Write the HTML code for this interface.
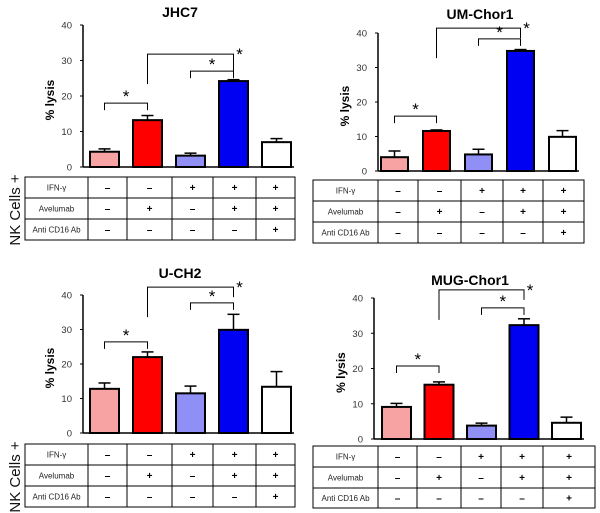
<!DOCTYPE html>
<html><head><meta charset="utf-8">
<style>
html,body{margin:0;padding:0;background:#fff;}
svg{display:block;font-family:"Liberation Sans",Arial,sans-serif;}
</style></head>
<body>
<svg id="fig" width="600" height="513" viewBox="0 0 600 513" xmlns="http://www.w3.org/2000/svg">
<text x="0" y="0" transform="translate(20,210) rotate(-90)" text-anchor="middle" font-size="15" fill="#111">NK Cells +</text>
<text x="0" y="0" transform="translate(20,477) rotate(-90)" text-anchor="middle" font-size="15" fill="#111">NK Cells +</text>
</svg>
<script>
// Shared categories and table rows
const categories = ["NK", "NK+Avelumab", "NK+IFN", "NK+IFN+Avelumab", "NK+IFN+Avelumab+antiCD16"];
const rowLabels = ["IFN-\u03b3", "Avelumab", "Anti CD16 Ab"];
const rowIfn = ["\u2013", "\u2013", "+", "+", "+"];
const rowAvelumab = ["\u2013", "+", "\u2013", "+", "+"];
const rowCd16 = ["\u2013", "\u2013", "\u2013", "\u2013", "+"];
const yTicks = [0, 10, 20, 30, 40];
const barColors = ["#f8a3a3", "#ff0000", "#8f8ff5", "#0000f2", "#ffffff"];

// Series data per panel
const jhc7Values = [4.3, 13.2, 3.2, 24.2, 7.0];
const jhc7Errors = [0.8, 1.3, 0.7, 0.4, 1.0];
const jhc7Brackets = [18, 27, 31.8];
const umValues = [4.0, 11.6, 4.8, 34.8, 9.9];
const umErrors = [1.8, 0.3, 1.5, 0.4, 1.8];
const umBrackets = [15.9, 38.3, 41.4];
const uch2Values = [12.8, 22.0, 11.5, 29.9, 13.4];
const uch2Errors = [1.7, 1.5, 2.1, 4.5, 4.4];
const uch2Brackets = [26.4, 37.7, 42.3];
const mugValues = [9.1, 15.4, 3.8, 32.3, 4.6];
const mugErrors = [1.0, 0.8, 0.7, 1.8, 1.6];
const mugBrackets = [20.7, 37.2, 42.3];

const NS = "http://www.w3.org/2000/svg";
const svg = document.getElementById("fig");
function mk(tag, attrs, parent, txt) {
  const e = document.createElementNS(NS, tag);
  for (const k in attrs) e.setAttribute(k, attrs[k]);
  if (txt !== undefined) e.textContent = txt;
  (parent || svg).appendChild(e);
  return e;
}

function panel(p, values, errors, brackets) {
  const g = mk("g", {});
  
  
  const y = v => p.y0 - (v / 40) * (p.y0 - p.y40);
  const bx = i => p.bx0 + i * p.step;
  const t = mk("text", {x: p.tx, y: p.ty, "text-anchor": "middle", "font-size": 14, "font-weight": "bold", fill: "#000"}, g, p.title);
  
  
  const ax = mk("line", {x1: p.ax, y1: y(40), x2: p.ax, y2: y(0), stroke: "#000", "stroke-width": 1.5}, g);
  
  
  const xax = mk("line", {x1: p.ax, y1: y(0), x2: bx(4) + p.bw + 3, y2: y(0), stroke: "#000", "stroke-width": 1.5}, g);
  
  
  yTicks.forEach(v => {
    mk("line", {x1: p.ax - 3, y1: y(v), x2: p.ax, y2: y(v), stroke: "#000", "stroke-width": 1}, g);
    const tl = mk("text", {x: p.ax - 11, y: y(v) + 3.5, "text-anchor": "end", "font-size": 9.5, fill: "#333"}, g, String(v));
    
    
  });
  const yt = mk("text", {transform: `translate(${p.ax - 29},${(y(0) + y(40)) / 2 + 4}) rotate(-90)`, "text-anchor": "middle", "font-size": 12, "font-weight": "bold", fill: "#000"}, g, "% lysis");
  
  
  values.forEach((v, i) => {
    const x = bx(i), top = y(v), cx = x + p.bw / 2;
    const eb = y(v + errors[i]);
    const el = mk("line", {x1: cx, y1: top, x2: cx, y2: eb, stroke: "#000", "stroke-width": 1.5}, g);
    
    
    mk("line", {x1: cx - 6, y1: eb, x2: cx + 6, y2: eb, stroke: "#000", "stroke-width": 1.5}, g);
    const r = mk("rect", {x: x, y: top, width: p.bw, height: y(0) - top, fill: barColors[i], stroke: "#000", "stroke-width": 2}, g);
    
    
  });
  const cxs = i => bx(i) + p.bw / 2;
  function bracket(i1, i2, lvl, dropL, dropR, starRight) {
    const by = y(lvl);
    const pth = mk("path", {d: `M${cxs(i1)},${by + dropL} V${by} H${cxs(i2)} V${by + dropR}`, fill: "none", stroke: "#000", "stroke-width": 1}, g);
    
    
    const sx = starRight ? cxs(i2) + 6 : (cxs(i1) + cxs(i2)) / 2;
    const sy = starRight ? by + 6 : by - 1;
    const st = mk("text", {x: sx, y: sy, "text-anchor": "middle", "font-size": 17, fill: "#000"}, g, "*");
    
    
  }
  bracket(0, 1, brackets[0], 7, 7, false);
  bracket(2, 3, brackets[1], 7, 7, false);
  bracket(1, 3, brackets[2], p.bigDropL, p.bigDropR, true);
  const tb = mk("g", {}, g);
  
  
  const rows = [rowIfn, rowAvelumab, rowCd16];
  mk("rect", {x: p.tx0, y: p.rows[0], width: p.cols[5] - p.tx0, height: p.rows[3] - p.rows[0], fill: "none", stroke: "#000", "stroke-width": 1}, tb);
  for (let r = 1; r < 3; r++) mk("line", {x1: p.tx0, y1: p.rows[r], x2: p.cols[5], y2: p.rows[r], stroke: "#000", "stroke-width": 1}, tb);
  for (let c = 0; c < 5; c++) mk("line", {x1: p.cols[c], y1: p.rows[0], x2: p.cols[c], y2: p.rows[3], stroke: "#000", "stroke-width": 1}, tb);
  rows.forEach((row, r) => {
    const my = (p.rows[r] + p.rows[r + 1]) / 2;
    const lb = mk("text", {x: (p.tx0 + p.cols[0]) / 2, y: my + 3, "text-anchor": "middle", "font-size": 8, fill: "#222"}, tb, rowLabels[r]);
    
    
    row.forEach((s, c) => {
      const cell = mk("text", {x: (p.cols[c] + p.cols[c + 1]) / 2, y: my + 3.5, "text-anchor": "middle", "font-size": 10, "font-weight": "bold", fill: "#000"}, tb, s);
      
      
    });
  });
}

panel({name: "jhc7", title: "JHC7", tx: 180, ty: 17, ax: 83, y40: 25, y0: 167, bx0: 90, step: 43, bw: 29,
  bigDropL: 30, bigDropR: 24, tx0: 25, rows: [177, 198, 219, 240], cols: [88, 127, 172, 213, 256, 295]},
  jhc7Values, jhc7Errors, jhc7Brackets);
panel({name: "um-chor1", title: "UM-Chor1", tx: 480, ty: 19, ax: 378, y40: 33, y0: 171, bx0: 381, step: 42, bw: 27,
  bigDropL: 30, bigDropR: 10, tx0: 313, rows: [180, 201, 222, 243], cols: [378, 418, 461, 503, 543, 584]},
  umValues, umErrors, umBrackets);
panel({name: "u-ch2", title: "U-CH2", tx: 180, ty: 278, ax: 83, y40: 295, y0: 433, bx0: 90, step: 43, bw: 29,
  bigDropL: 30, bigDropR: 10, tx0: 25, rows: [444, 465, 486, 507], cols: [88, 127, 172, 213, 256, 295]},
  uch2Values, uch2Errors, uch2Brackets);
panel({name: "mug-chor1", title: "MUG-Chor1", tx: 470, ty: 285, ax: 374, y40: 298, y0: 439, bx0: 382, step: 42.5, bw: 29,
  bigDropL: 30, bigDropR: 10, tx0: 313, rows: [446, 467, 488, 508], cols: [378, 417, 461, 501, 543, 595]},
  mugValues, mugErrors, mugBrackets);
</script>
</body></html>
